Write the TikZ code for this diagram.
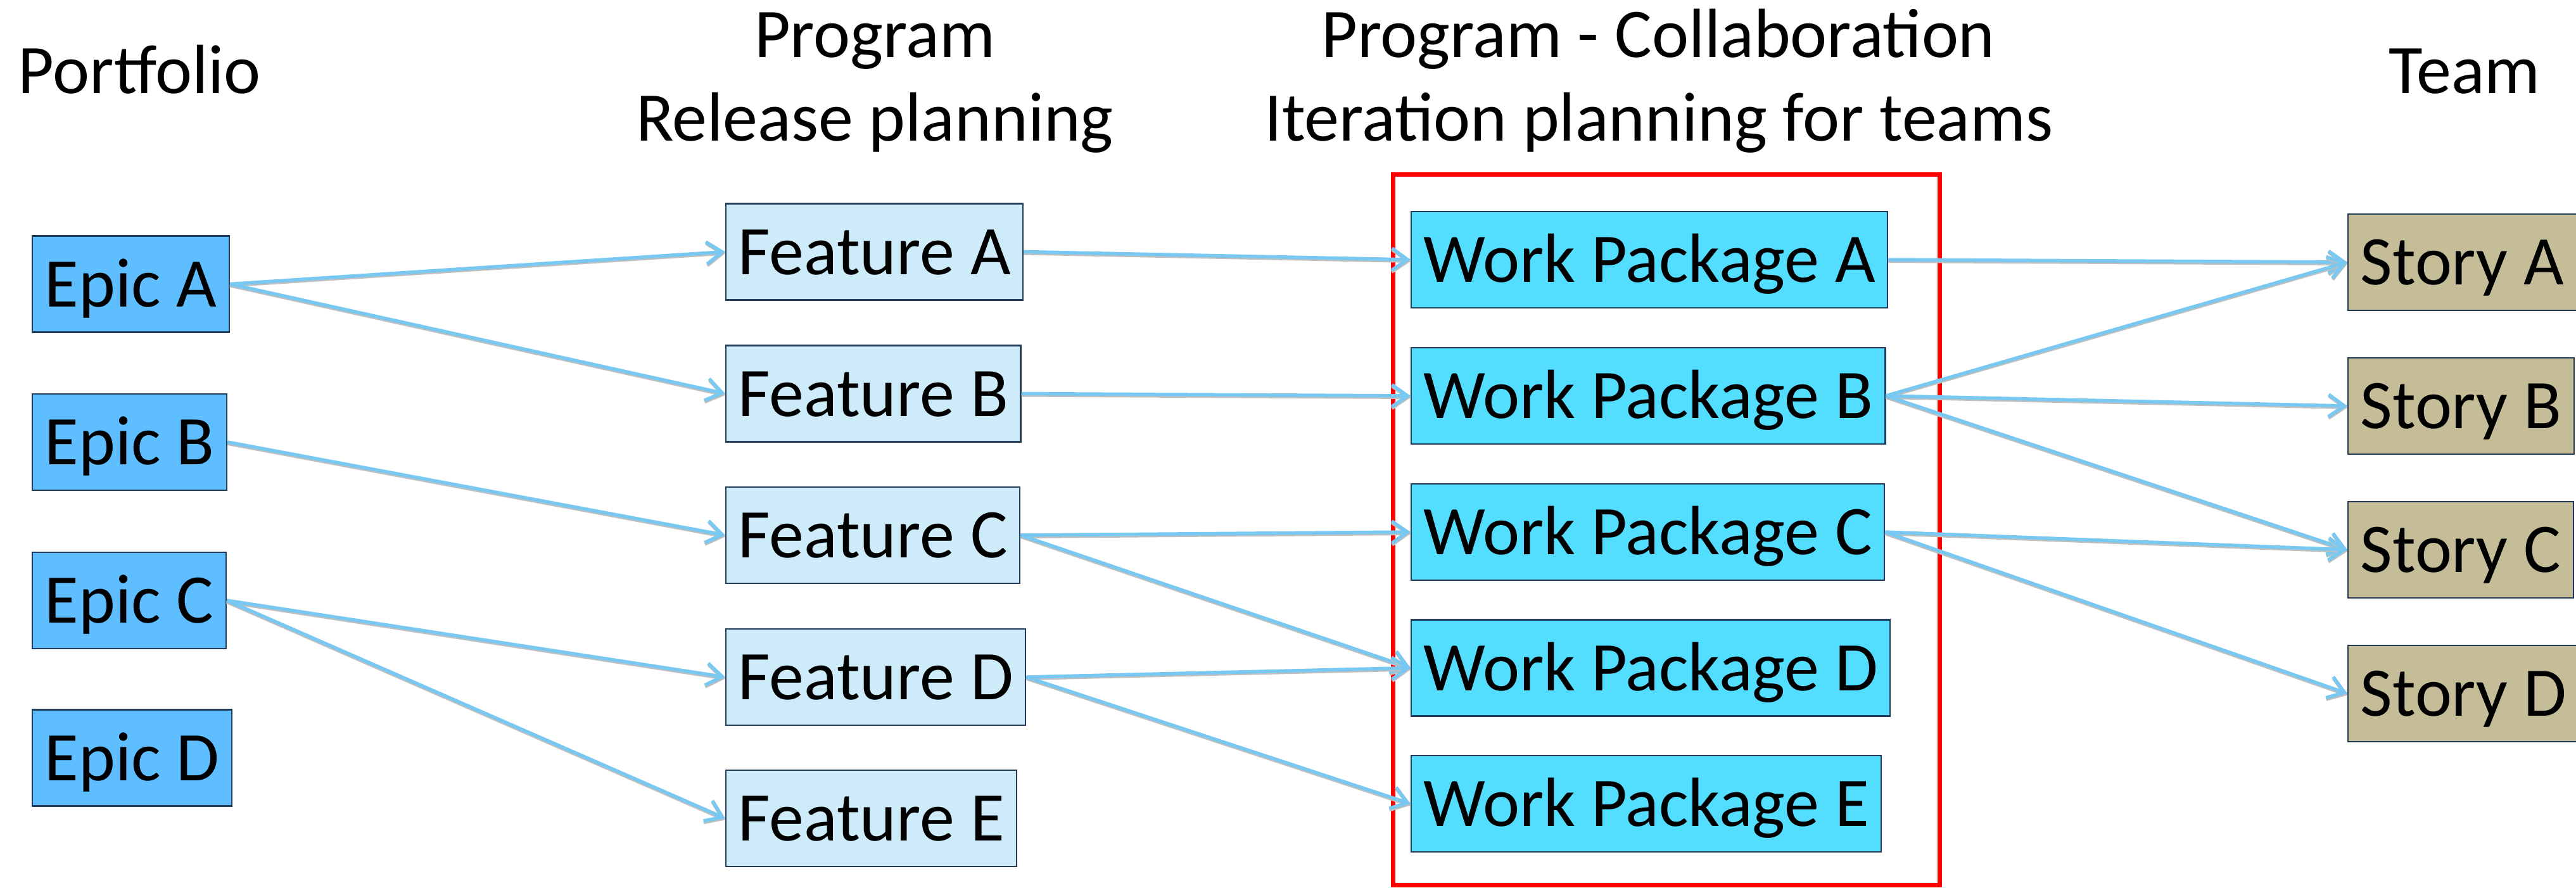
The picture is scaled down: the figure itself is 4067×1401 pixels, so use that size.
\documentclass[tikz,border=0pt]{standalone}
\usepackage{fontspec}
\setmainfont{Carlito}
\usetikzlibrary{arrows.meta}
\definecolor{epicfill}{RGB}{94,190,255}
\definecolor{featfill}{RGB}{205,235,248}
\definecolor{wpfill}{RGB}{83,221,255}
\definecolor{storyfill}{RGB}{196,189,151}
\definecolor{boxline}{RGB}{35,60,90}
\definecolor{linkblue}{RGB}{120,200,242}
\definecolor{framered}{RGB}{255,0,0}
\begin{document}
\begin{tikzpicture}[x=0.2pt,y=-0.2pt,
  box/.style={draw=boxline, line width=0.45pt, anchor=west, inner xsep=3.9pt, inner ysep=0pt,
    minimum height=30.4pt, text height=14.2pt, text depth=0pt, font=\fontsize{22}{26.4}\selectfont},
  epic/.style={box, fill=epicfill},
  feat/.style={box, fill=featfill},
  wp/.style={box, fill=wpfill},
  story/.style={box, fill=storyfill},
  link/.style={draw=linkblue, line width=1.1pt, -{Straight Barb[length=5pt,width=7pt]},
    preaction={draw=black!25, line width=1pt, transform canvas={yshift=-0.5pt}}},
  title/.style={anchor=base, inner sep=0pt, font=\fontsize{22}{26.4}\selectfont},
  frame/.style={draw=framered, line width=1.4pt}]
\useasboundingbox (0,0) rectangle (4067,1401);

% titles
\node[title, anchor=base west] (tport) at (28,147) {Portfolio};
\node[title] (tprog1) at (1381,90) {Program};
\node[title] (tprog2) at (1381,222) {Release planning};
\node[title] (tcol1) at (2618,90) {Program - Collaboration};
\node[title] (tcol2) at (2619,222) {Iteration planning for teams};
\node[title] (tteam) at (3891,147) {Team};

% red frame
\draw[frame] (2199,275) rectangle (3062,1397);

% epics
\node[epic] (ea) at (50,448.5) {Epic A};
\node[epic] (eb) at (50,698) {Epic B};
\node[epic] (ec) at (50,948) {Epic C};
\node[epic] (ed) at (50,1196.5) {Epic D};

% features
\node[feat] (fa) at (1145,397.5) {Feature A};
\node[feat] (fb) at (1145,621.5) {Feature B};
\node[feat] (fc) at (1145,845) {Feature C};
\node[feat] (fd) at (1145,1069) {Feature D};
\node[feat] (fe) at (1145,1292) {Feature E};

% work packages
\node[wp] (wa) at (2227,410) {Work Package A};
\node[wp] (wb) at (2227,625) {Work Package B};
\node[wp] (wc) at (2227,840) {Work Package C};
\node[wp] (wd) at (2227,1054.5) {Work Package D};
\node[wp] (we) at (2227,1269) {Work Package E};

% stories
\node[story] (sa) at (3706,414) {Story A};
\node[story] (sb) at (3706,641) {Story B};
\node[story] (sc) at (3706,868) {Story C};
\node[story] (sd) at (3706,1095) {Story D};

% links
\draw[link] (ea.east) -- (fa.west);
\draw[link] (ea.east) -- (fb.west);
\draw[link] (eb.east) -- (fc.west);
\draw[link] (ec.east) -- (fd.west);
\draw[link] (ec.east) -- (fe.west);

\draw[link] (fa.east) -- (wa.west);
\draw[link] (fb.east) -- (wb.west);
\draw[link] (fc.east) -- (wc.west);
\draw[link] (fc.east) -- (wd.west);
\draw[link] (fd.east) -- (wd.west);
\draw[link] (fd.east) -- (we.west);

\draw[link] (wa.east) -- (sa.west);
\draw[link] (wb.east) -- (sa.west);
\draw[link] (wb.east) -- (sb.west);
\draw[link] (wb.east) -- (sc.west);
\draw[link] (wc.east) -- (sc.west);
\draw[link] (wc.east) -- (sd.west);
\end{tikzpicture}
\end{document}
